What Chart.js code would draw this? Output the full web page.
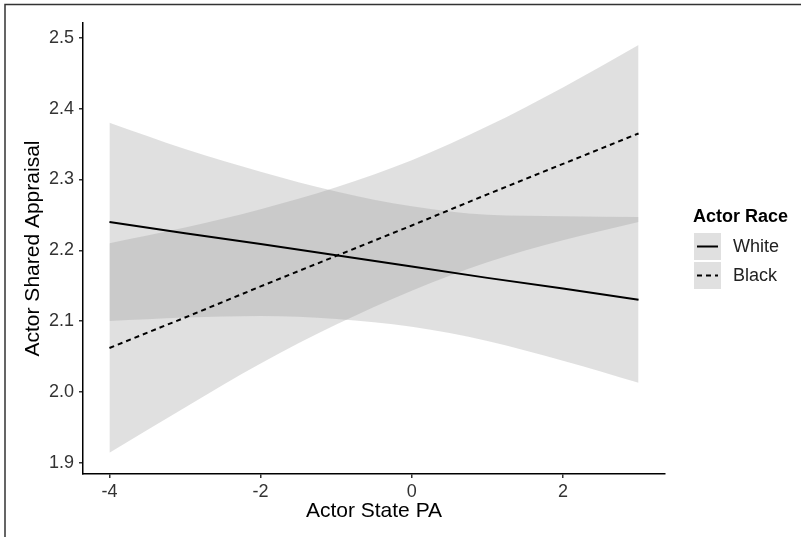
<!DOCTYPE html>
<html>
<head>
<meta charset="utf-8">
<script src="https://cdn.jsdelivr.net/npm/chart.js@4/dist/chart.umd.min.js"></script>
<style>
  html, body { margin: 0; padding: 0; background: #fff; }
  #wrap { position: relative; width: 801px; height: 537px; }
</style>
</head>
<body>
<div id="wrap"><canvas id="chart"></canvas></div>
<script>
// Values
const xValues = [-4, -3, -2, -1, 0, 1, 2, 3];
const whiteFit = [2.240, 2.224, 2.209, 2.193, 2.177, 2.161, 2.146, 2.130];
const whiteLower = [2.100, 2.105, 2.107, 2.103, 2.092, 2.072, 2.044, 2.013];
const whiteUpper = [2.380, 2.343, 2.311, 2.283, 2.262, 2.250, 2.248, 2.247];
const blackFit = [2.062, 2.105, 2.149, 2.192, 2.235, 2.279, 2.322, 2.365];
const blackLower = [1.914, 1.978, 2.040, 2.095, 2.143, 2.183, 2.214, 2.240];
const blackUpper = [2.210, 2.232, 2.258, 2.289, 2.327, 2.375, 2.430, 2.490];

const xTicks = [-4, -2, 0, 2];
const yTicks = [1.9, 2.0, 2.1, 2.2, 2.3, 2.4, 2.5];
const legendTitle = 'Actor Race';
const groups = ['White', 'Black'];

const FONT = "'Liberation Sans', Arial, sans-serif";
const bandColor = 'rgba(153,153,153,0.3)';

function pts(ys) {
    return xValues.map((x, i) => ({ x: x, y: ys[i] }));
}

function band(ys, fill) {
    return {
        data: pts(ys),
        borderWidth: 0,
        pointRadius: 0,
        backgroundColor: bandColor,
        cubicInterpolationMode: 'monotone',
        fill: fill
    };
}

// frame and legend drawn by hand, ggplot style
const extras = {
    id: 'extras',
    beforeDraw(chart) {
        const ctx = chart.ctx;
        ctx.save();
        ctx.fillStyle = '#fff';
        ctx.fillRect(0, 0, chart.width, chart.height);
        ctx.restore();
    },
    afterDraw(chart) {
        const ctx = chart.ctx;
        ctx.save();
        ctx.strokeStyle = '#333';
        ctx.lineWidth = 1.5;
        ctx.beginPath();
        ctx.moveTo(5, chart.height);
        ctx.lineTo(5, 4.5);
        ctx.lineTo(chart.width, 4.5);
        ctx.stroke();

        // legend
        const lx = 694, ly = 233, key = 27;
        ctx.fillStyle = '#000';
        ctx.font = 'bold 18px ' + FONT;
        ctx.textBaseline = 'alphabetic';
        ctx.fillText(legendTitle, 693, 222);
        groups.forEach((g, i) => {
            const top = ly + i * (key + 2);
            ctx.fillStyle = bandColor;
            ctx.fillRect(lx, top, key, key);
            ctx.strokeStyle = '#000';
            ctx.lineWidth = 2;
            ctx.setLineDash(i === 0 ? [] : [5, 4]);
            ctx.beginPath();
            ctx.moveTo(lx + 3, top + key / 2);
            ctx.lineTo(lx + key - 3, top + key / 2);
            ctx.stroke();
            ctx.setLineDash([]);
            ctx.fillStyle = '#222';
            ctx.font = '18px ' + FONT;
            ctx.textBaseline = 'middle';
            ctx.fillText(g, 733, top + key / 2 + 1);
        });
        ctx.restore();
    }
};

new Chart(document.getElementById('chart'), {
    type: 'line',
    data: {
        datasets: [
            {
                label: groups[0],
                data: pts(whiteFit),
                borderColor: '#000',
                borderWidth: 2,
                pointRadius: 0,
                fill: false
            },
            {
                label: groups[1],
                data: pts(blackFit),
                borderColor: '#000',
                borderWidth: 2,
                borderDash: [5, 4],
                pointRadius: 0,
                fill: false
            },
            band(whiteLower, false),
            band(whiteUpper, '-1'),
            band(blackLower, false),
            band(blackUpper, '-1')
        ]
    },
    options: {
        responsive: true,
        maintainAspectRatio: false,
        animation: false,
        layout: { padding: { top: 23, right: 136, left: 0, bottom: 0 } },
        plugins: {
            legend: { display: false },
            tooltip: { enabled: false }
        },
        scales: {
            x: {
                type: 'linear',
                min: -4.35,
                max: 3.35,
                afterBuildTicks: s => { s.ticks = xTicks.map(v => ({ value: v })); },
                afterFit: s => { s.height = 63; },
                border: { display: true, color: '#000', width: 1.5 },
                grid: { drawOnChartArea: false, drawTicks: true, tickLength: 4, color: '#333', lineWidth: 1.5 },
                ticks: { color: '#333', padding: 3, font: { family: FONT, size: 18 }, maxRotation: 0 },
                title: {
                    display: true,
                    text: 'Actor State PA',
                    color: '#000',
                    font: { family: FONT, size: 21 },
                    padding: { top: 0, bottom: 13 }
                }
            },
            y: {
                min: 1.884,
                max: 2.521,
                afterBuildTicks: s => { s.ticks = yTicks.map(v => ({ value: v })); },
                afterFit: s => { s.width = 83; },
                border: { display: true, color: '#000', width: 1.5 },
                grid: { drawOnChartArea: false, drawTicks: true, tickLength: 4, color: '#333', lineWidth: 1.5 },
                ticks: {
                    color: '#333',
                    padding: 5,
                    font: { family: FONT, size: 18 },
                    callback: v => v.toFixed(1)
                },
                title: {
                    display: true,
                    text: 'Actor Shared Appraisal',
                    color: '#000',
                    font: { family: FONT, size: 21 },
                    padding: { top: 21, bottom: 0 }
                }
            }
        }
    },
    plugins: [extras]
});
</script>
</body>
</html>
